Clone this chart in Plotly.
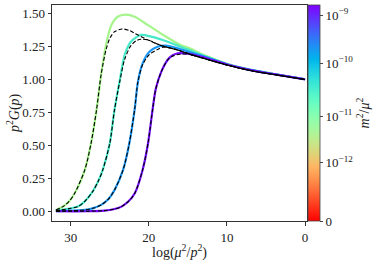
import plotly.graph_objects as go
import math

# ---- data ----
L_green = [31.9, 31.0, 30.2, 29.5, 28.8, 28.2, 27.4, 26.7, 26.1, 25.4, 24.8, 24.0, 23.0, 21.8, 20.1, 18.0, 15.9, 15.0, 12.9, 10.0, 7.0, 4.0, 0.0]
y_green = [0.01, 0.035, 0.075, 0.136, 0.22, 0.313, 0.515, 0.767, 1.04, 1.285, 1.41, 1.474, 1.49, 1.474, 1.41, 1.33, 1.258, 1.24, 1.184, 1.118, 1.073, 1.04, 1.0]

L_cyan = [31.9, 31.2, 30.2, 29.1, 28.2, 27.2, 26.5, 25.9, 25.0, 24.4, 23.7, 23.1, 22.3, 21.0, 19.7, 17.6, 15.0, 12.9, 10.0, 7.0, 4.0, 0.0]
y_cyan = [0.005, 0.01, 0.02, 0.035, 0.075, 0.149, 0.225, 0.313, 0.515, 0.767, 1.0, 1.184, 1.285, 1.336, 1.323, 1.285, 1.225, 1.177, 1.116, 1.072, 1.04, 1.0]

L_blue = [31.9, 30.0, 28.2, 27.2, 26.1, 25.2, 24.4, 23.3, 22.5, 21.8, 21.4, 20.8, 19.9, 18.9, 17.8, 16.3, 15.0, 12.9, 10.0, 7.0, 4.0, 0.0]
y_blue = [0.0, 0.004, 0.01, 0.022, 0.048, 0.09, 0.16, 0.313, 0.515, 0.78, 0.98, 1.12, 1.21, 1.247, 1.255, 1.235, 1.21, 1.172, 1.114, 1.071, 1.04, 1.0]

L_purple = [31.9, 28.0, 25.7, 24.5, 23.5, 22.6, 21.8, 20.8, 20.1, 19.5, 19.1, 18.4, 17.6, 17.0, 16.3, 15.0, 12.9, 10.0, 7.0, 4.0, 0.0]
y_purple = [0.0, 0.0, 0.005, 0.015, 0.035, 0.075, 0.136, 0.313, 0.515, 0.78, 0.93, 1.058, 1.146, 1.18, 1.197, 1.195, 1.165, 1.112, 1.07, 1.039, 1.0]

L_dgreen = [31.9, 31.0, 30.2, 29.5, 28.2, 27.4, 26.7, 26.1, 25.5, 25.0, 24.4, 23.4, 22.5, 21.8, 20.1, 18.4, 16.3, 15.0, 12.9, 10.0, 7.0, 4.0, 0.0]
y_dgreen = [0.01, 0.035, 0.075, 0.136, 0.313, 0.515, 0.767, 1.04, 1.22, 1.31, 1.36, 1.381, 1.37, 1.348, 1.298, 1.255, 1.222, 1.195, 1.157, 1.108, 1.066, 1.036, 0.998]

L_dcyan = [31.9, 31.2, 30.2, 29.1, 28.2, 27.2, 26.5, 25.9, 25.0, 24.4, 23.7, 23.1, 22.3, 21.6, 21.0, 20.1, 18.4, 16.3, 15.0, 12.9, 10.0, 7.0, 4.0, 0.0]
y_dcyan = [0.005, 0.01, 0.02, 0.035, 0.075, 0.149, 0.225, 0.313, 0.515, 0.767, 0.99, 1.15, 1.255, 1.293, 1.303, 1.298, 1.255, 1.222, 1.195, 1.157, 1.108, 1.066, 1.036, 0.998]

L_dblue = [31.9, 30.0, 28.2, 27.2, 26.1, 25.2, 24.4, 23.3, 22.5, 21.8, 21.4, 20.8, 19.9, 18.9, 18.2, 17.5, 16.3, 15.0, 12.9, 10.0, 7.0, 4.0, 0.0]
y_dblue = [0.0, 0.004, 0.01, 0.022, 0.048, 0.09, 0.16, 0.313, 0.515, 0.78, 0.98, 1.11, 1.19, 1.225, 1.243, 1.24, 1.222, 1.195, 1.157, 1.108, 1.066, 1.036, 0.998]

L_dpurple = [31.9, 28.0, 25.7, 24.5, 23.5, 22.6, 21.8, 20.8, 20.1, 19.5, 19.1, 18.4, 17.6, 17.0, 16.0, 15.0, 12.9, 10.0, 7.0, 4.0, 0.0]
y_dpurple = [0.0, 0.0, 0.005, 0.015, 0.035, 0.075, 0.136, 0.313, 0.515, 0.78, 0.93, 1.058, 1.146, 1.175, 1.19, 1.19, 1.157, 1.108, 1.066, 1.036, 0.998]

x_ticks = [0, 10, 20, 30]
y_ticks = [0.0, 0.25, 0.5, 0.75, 1.0, 1.25, 1.5]
cb_tickvals = [0.0, 0.27, 0.486, 0.731, 0.953]
cb_ticktext = ["0", "10<sup>\u221212</sup>", "10<sup>\u221211</sup>", "10<sup>\u221210</sup>", "10<sup>\u22129</sup>"]

x_title = "log(<i>\u03bc</i><sup>2</sup>/<i>p</i><sup>2</sup>)"
y_title = "<i>p</i><sup>2</sup><i>G</i>(<i>p</i>)"
cb_title = "<i>m</i><sup>2</sup>/<i>\u03bc</i><sup>2</sup>"

# ---- style ----
FONT = "Liberation Serif"
col_green = "rgb(166,244,140)"
col_cyan = "rgb(70,232,200)"
col_blue = "rgb(28,150,243)"
col_purple = "rgb(118,10,255)"


def rainbow(t):
    r = min(1.0, abs(2 * t - 0.5))
    g = max(0.0, math.sin(math.pi * t))
    b = max(0.0, math.cos(math.pi * t / 2))
    return "rgb(%d,%d,%d)" % (round(r * 255), round(g * 255), round(b * 255))


cscale = [[i / 20, rainbow(1 - i / 20)] for i in range(21)]

fig = go.Figure()
for L, y, c in [(L_green, y_green, col_green), (L_cyan, y_cyan, col_cyan),
                (L_blue, y_blue, col_blue), (L_purple, y_purple, col_purple)]:
    fig.add_trace(go.Scatter(x=L, y=y, mode="lines", line=dict(color=c, width=2.2, shape="spline", smoothing=0.8),
                             showlegend=False, hoverinfo="skip"))
for L, y in [(L_dgreen, y_dgreen), (L_dcyan, y_dcyan), (L_dblue, y_dblue), (L_dpurple, y_dpurple)]:
    fig.add_trace(go.Scatter(x=L, y=y, mode="lines",
                             line=dict(color="black", width=1.1, dash="4px,2px", shape="spline", smoothing=0.8),
                             showlegend=False, hoverinfo="skip"))

fig.add_trace(go.Scatter(
    x=[None], y=[None], mode="markers", showlegend=False, hoverinfo="skip",
    marker=dict(color=[0], cmin=0, cmax=1, colorscale=cscale, showscale=True,
                colorbar=dict(x=1.0, xanchor="left", xpad=1, y=0.5, yanchor="middle", ypad=0,
                              len=1, lenmode="fraction", thickness=12,
                              outlinewidth=0.8, outlinecolor="#444",
                              tickvals=cb_tickvals, ticktext=cb_ticktext,
                              ticks="outside", ticklen=3, tickwidth=0.8, tickcolor="#444",
                              tickfont=dict(family=FONT, size=13, color="#222"),
                              title=dict(text=cb_title, side="right",
                                         font=dict(family=FONT, size=14, color="#222"))))))

axis_common = dict(showgrid=False, zeroline=False, showline=True, linecolor="#333", linewidth=1,
                   mirror=True, ticks="outside", ticklen=3.5, tickwidth=0.8, tickcolor="#333",
                   automargin=False,
                   tickfont=dict(family=FONT, size=13, color="#222"))

fig.update_layout(
    width=382, height=265,
    margin=dict(l=52, r=75, t=5, b=44, autoexpand=False),
    paper_bgcolor="white", plot_bgcolor="white",
    xaxis=dict(range=[32.4, -0.25], tickvals=x_ticks, ticklabelstandoff=1, **axis_common),
    yaxis=dict(range=[-0.074, 1.563], tickvals=y_ticks, tickformat=".2f", **axis_common),
    annotations=[
        dict(text=x_title, xref="paper", yref="paper", x=0.5, y=-0.134, xanchor="center", yanchor="middle",
             yshift=-2, showarrow=False, font=dict(family=FONT, size=14, color="#222")),
        dict(text=y_title, xref="paper", yref="paper", x=-0.133, y=0.5, xanchor="center", yanchor="middle",
             xshift=-5, textangle=-90, showarrow=False, font=dict(family=FONT, size=14, color="#222")),
    ],
)

fig.write_html("out.html", config={"displayModeBar": False},
               post_script="document.body.style.margin='0';document.body.style.overflow='hidden';")
